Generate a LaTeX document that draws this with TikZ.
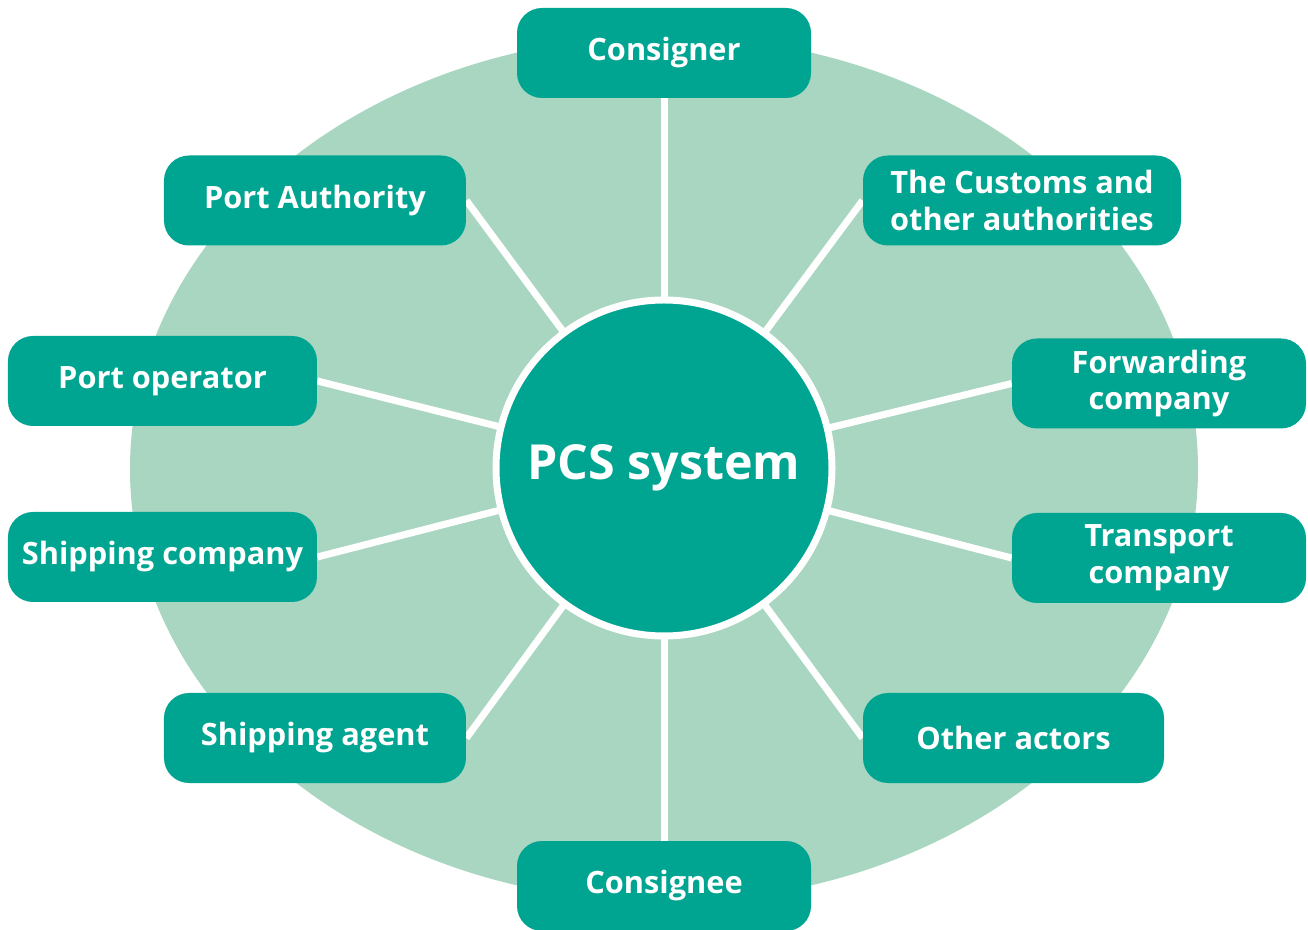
\documentclass[tikz,border=0pt]{standalone}
\usepackage{fontspec}
\setmainfont{Open Sans}
\usepackage{xcolor}
\usetikzlibrary{backgrounds}
\definecolor{pcsteal}{HTML}{00A591}
\definecolor{pcsmint}{HTML}{A8D6C0}

\begin{document}
\begin{tikzpicture}[
    actor/.style={rectangle, fill=pcsteal, rounded corners=0.5cm, minimum height=1.8cm, align=center, text=white, inner sep=0pt, font=\fontsize{17.5}{21}\selectfont\bfseries},
    hub/.style={circle, fill=pcsteal, draw=white, line width=0.14cm, minimum size=6.72cm, inner sep=0pt, text=white, font=\fontsize{27.5}{30}\selectfont\bfseries},
    link/.style={draw=white, line width=0.14cm},
  ]
    \useasboundingbox (-13.28,-9.24) rectangle (12.88,9.36);

    % Background area
    \begin{scope}[on background layer]
      \fill[pcsmint] (0,-0.02) ellipse (10.68 and 8.66);
    \end{scope}

    \node[hub] (pcs) at (0,0) {PCS system};

    % Actors, clockwise from the top
    \node[actor, minimum width=5.88cm] (consigner) at (0,8.30) {Consigner};
    \node[actor, minimum width=6.36cm] (customs) at (7.16,5.35) {The Customs and\\other authorities};
    \node[actor, minimum width=5.88cm] (fwd) at (9.90,1.69) {Forwarding\\company};
    \node[actor, minimum width=5.88cm] (transport) at (9.90,-1.80) {Transport\\company};
    \node[actor, minimum width=6.02cm] (other) at (6.99,-5.40) {Other actors};
    \node[actor, minimum width=5.88cm] (consignee) at (0,-8.36) {Consignee};
    \node[actor, minimum width=6.04cm] (agent) at (-6.98,-5.40) {Shipping agent};
    \node[actor, minimum width=6.18cm] (shipco) at (-10.03,-1.78) {Shipping company};
    \node[actor, minimum width=6.18cm] (portop) at (-10.03,1.74) {Port operator};
    \node[actor, minimum width=6.04cm] (portauth) at (-6.98,5.35) {Port Authority};

    % Spokes
    \begin{scope}[on background layer]
      \draw[link] (pcs.center) -- (consigner.south);
      \draw[link] (pcs.center) -- (customs.west);
      \draw[link] (pcs.center) -- (fwd.west);
      \draw[link] (pcs.center) -- (transport.west);
      \draw[link] (pcs.center) -- (other.west);
      \draw[link] (pcs.center) -- (consignee.north);
      \draw[link] (pcs.center) -- (agent.east);
      \draw[link] (pcs.center) -- (shipco.east);
      \draw[link] (pcs.center) -- (portop.east);
      \draw[link] (pcs.center) -- (portauth.east);
    \end{scope}

  \end{tikzpicture}
\end{document}
